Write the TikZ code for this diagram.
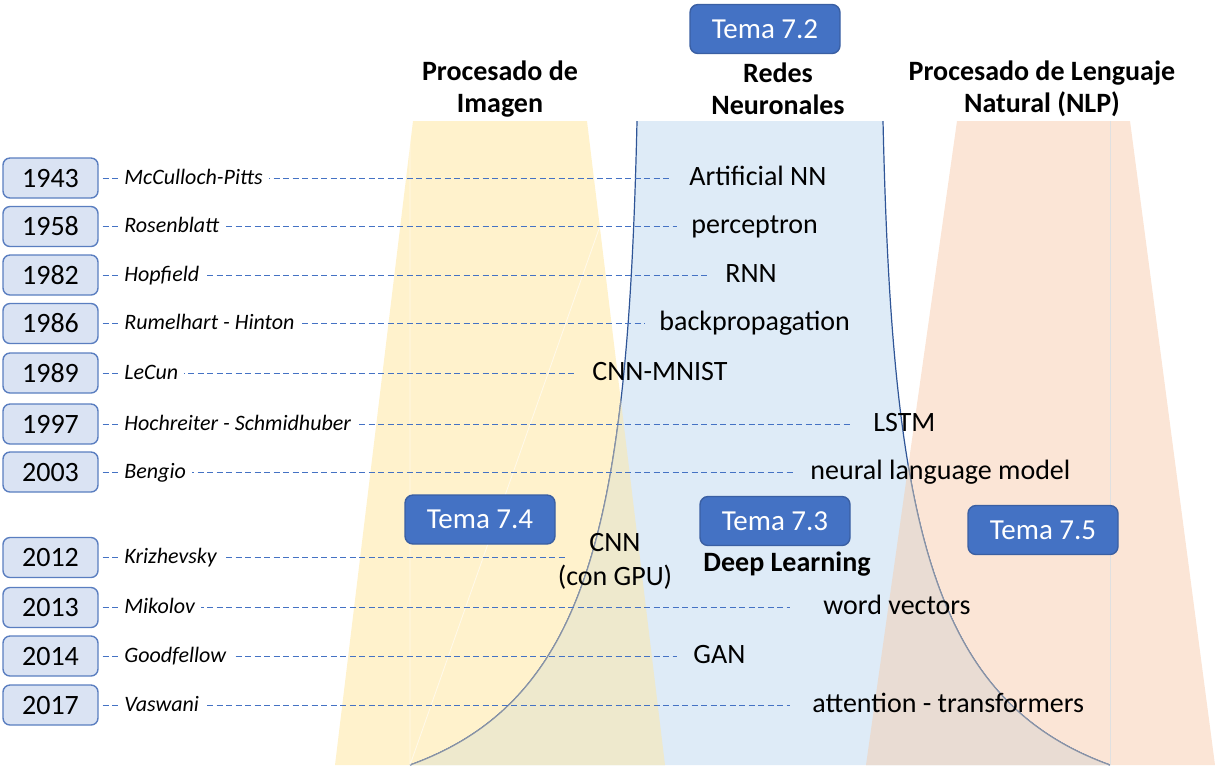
\documentclass[tikz,border=0pt]{standalone}
\usepackage{fontspec}
\setmainfont{Carlito}
\usetikzlibrary{positioning}

\definecolor{yearfill}{HTML}{DAE3F3}
\definecolor{yearline}{HTML}{5A7EC0}
\definecolor{temafill}{HTML}{4472C4}
\definecolor{temaline}{HTML}{3A5FA3}
\definecolor{dashblue}{HTML}{4472C4}
\definecolor{imgfill}{HTML}{FFF2CC}
\definecolor{nnfill}{HTML}{DEEBF7}
\definecolor{nlpfill}{HTML}{FBE5D6}
\definecolor{imgnn}{HTML}{EEE9CD}
\definecolor{nlpnn}{HTML}{E9DCD3}
\definecolor{nnline}{HTML}{2F5597}
\definecolor{nngray}{HTML}{8A94A6}

\begin{document}
\begin{tikzpicture}[x=.5pt,y=-.5pt,
  year/.style={draw=yearline, line width=.7pt, fill=yearfill, rounded corners=3.5pt,
    minimum width=47.5pt, minimum height=20pt, inner sep=0pt,
    font=\fontsize{14}{16}\selectfont},
  who/.style={fill=white, anchor=west, inner sep=3pt, text height=7.5pt, text depth=1.5pt,
    font=\fontsize{11}{13}\selectfont\itshape},
  lbl/.style={inner sep=3pt, font=\fontsize{14}{17}\selectfont},
  what/.style={lbl, anchor=west, text height=9pt, text depth=2pt},
  tema/.style={draw=temaline, line width=.7pt, fill=temafill, text=white, rounded corners=4pt,
    minimum width=75pt, minimum height=24.5pt, font=\fontsize{14.5}{16}\selectfont},
  head/.style={align=center, font=\fontsize{14}{16}\selectfont\bfseries},
  dashline/.style={draw=dashblue, line width=.5pt, dash pattern=on 3pt off 1.75pt,
    shorten <=2pt, shorten >=5pt}]
  \useasboundingbox (0,0) rectangle (1218,768);

  % areas
  \fill [imgfill] (413,121) -- (587,121) -- (665,765) -- (335,765) -- cycle;
  \fill [nlpfill] (957,121) -- (1130,121) -- (1215,765) -- (866,765) -- cycle;
  \path (637,121) coordinate (nt1) (883,121) coordinate (nt2)
    (410,765) coordinate (nb1) (1110,765) coordinate (nb2);
  \fill [nnfill] (nt1) -- (nt2) .. controls +(9,399) and +(-180,-65) .. (nb2)
    -- (nb1) .. controls +(180,-65) and +(-9,399) .. (nt1);
  \draw [nnline, line width=.6pt] (nt2) .. controls +(9,399) and +(-180,-65) .. (nb2)
    (nb1) .. controls +(180,-65) and +(-9,399) .. (nt1);
  % overlaps
  \begin{scope}
    \clip (413,121) -- (587,121) -- (665,765) -- (335,765) -- cycle;
    \fill [imgnn] (nt1) -- (nt2) .. controls +(9,399) and +(-180,-65) .. (nb2)
      -- (nb1) .. controls +(180,-65) and +(-9,399) .. (nt1);
    \draw [nngray, line width=.6pt] (nb1) .. controls +(180,-65) and +(-9,399) .. (nt1);
    \draw [white, opacity=.6, line width=.4pt] (nb1) -- (nt1) (nb1) -- (410,121);
  \end{scope}
  \begin{scope}
    \clip (957,121) -- (1130,121) -- (1215,765) -- (866,765) -- cycle;
    \fill [nlpnn] (nt1) -- (nt2) .. controls +(9,399) and +(-180,-65) .. (nb2)
      -- (nb1) .. controls +(180,-65) and +(-9,399) .. (nt1);
    \draw [nngray, line width=.6pt] (nt2) .. controls +(9,399) and +(-180,-65) .. (nb2);
    \draw [black!12, line width=.4pt] (nb2) -- (1110,121);
  \end{scope}

  % titles
  \node [head] (hImg) at (500,89) {Procesado de\\Imagen};
  \node [head] (hNN) at (778,89) {Redes\\Neuronales};
  \node [head] (hNLP) at (1042,89) {Procesado de Lenguaje\\Natural (NLP)};
  \node [tema] (t72) at (765,29) {Tema 7.2};
  \node [tema] (t74) at (480,519.5) {Tema 7.4};
  \node [tema] (t73) at (775,521) {Tema 7.3};
  \node [tema] (t75) at (1043,530) {Tema 7.5};
  \node [head] (dl) at (787,564) {Deep Learning};

  % timeline
  \foreach \yr/\py/\who/\lx/\what/\gap in {
    1943/178/McCulloch-Pitts/683/Artificial NN/6,
    1958/226.5/Rosenblatt/685/perceptron/4,
    1982/275/Hopfield/719/RNN/5,
    1986/323.5/Rumelhart - Hinton/653/backpropagation/4,
    1989/373/LeCun/586/CNN-MNIST/4.5,
    1997/424/Hochreiter - Schmidhuber/867/LSTM/7,
    2003/472/Bengio/804/neural language model/5.5,
    2013/607.5/Mikolov/817/word vectors/13.5,
    2014/656/Goodfellow/687/GAN/5,
    2017/705/Vaswani/806/attention - transformers/8}
  {
    \node [year] (y\yr) at (50.5,\py) {\yr};
    \node [what] (l\yr) at (\lx,\py) {\what};
    \draw [dashline, shorten >=\gap pt] (y\yr) -- (l\yr);
    \node [who] (n\yr) at (118,\py) {\who};
  }
  \node [year] (y2012) at (50.5,557.5) {2012};
  \node [lbl, align=center] (l2012) at (615,561) {CNN\\(con GPU)};
  \coordinate (e2012) at (576,557.5);
  \draw [dashline] (y2012) -- (e2012);
  \node [who] (n2012) at (118,557.5) {Krizhevsky};
\end{tikzpicture}
\end{document}
